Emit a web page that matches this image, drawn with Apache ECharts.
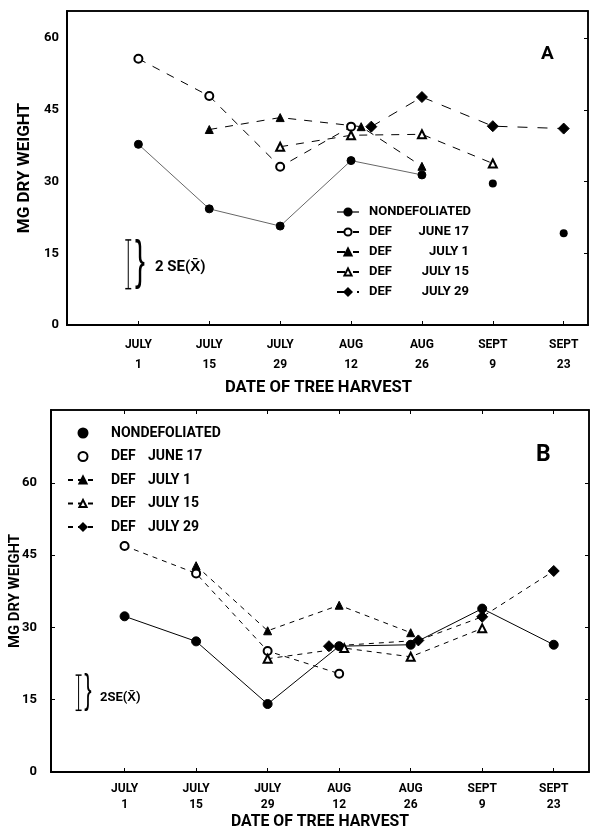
<!DOCTYPE html>
<html>
<head>
<meta charset="utf-8">
<script src="https://cdn.jsdelivr.net/npm/echarts@6/dist/echarts.min.js"></script>
<style>
  html, body { margin: 0; padding: 0; background: #fff; }
  #chartA { position: absolute; left: 0; top: 0; width: 591px; height: 400px; }
  #chartB { position: absolute; left: 0; top: 400px; width: 591px; height: 430px; }
</style>
</head>
<body>
<div id="chartA"></div>
<div id="chartB"></div>
<script>
// Fechas de cosecha: días desde el 1 de julio
var harvestDays = [0, 14, 28, 42, 56, 70, 84];
var harvestMonths = ["JULY", "JULY", "JULY", "AUG", "AUG", "SEPT", "SEPT"];
var harvestDates = ["1", "15", "29", "12", "26", "9", "23"];
var yTicks = [0, 15, 30, 45, 60];
var seriesNames = ["NONDEFOLIATED", "DEF JUNE 17", "DEF JULY 1", "DEF JULY 15", "DEF JULY 29"];

// Panel A
var nondefA_x = [0, 14, 28, 42, 56, 70, 84];
var nondefA_y = [37.8, 24.3, 20.7, 34.4, 31.4, 29.6, 19.2];
var nondefA_joined = 5; // solo los 5 primeros puntos van unidos
var june17A_x = [0, 14, 28, 42];
var june17A_y = [55.7, 47.9, 33.1, 41.5];
var july1A_x = [14, 28, 44, 56];
var july1A_y = [40.9, 43.4, 41.5, 33.2];
var july15A_x = [28, 42, 56, 70];
var july15A_y = [37.3, 39.7, 39.9, 33.8];
var july29A_x = [46, 56, 70, 84];
var july29A_y = [41.5, 47.7, 41.6, 41.1];
var seA_x = -2;
var seA_y = [7.6, 17.8];

// Panel B
var nondefB_x = [0, 14, 28, 42, 56, 70, 84];
var nondefB_y = [32.3, 27.1, 14.1, 26.1, 26.4, 33.9, 26.4];
var june17B_x = [0, 14, 28, 42];
var june17B_y = [46.9, 41.2, 25.1, 20.4];
var july1B_x = [14, 28, 42, 56];
var july1B_y = [42.8, 29.3, 34.6, 28.9];
var july15B_x = [28, 43, 56, 70];
var july15B_y = [23.5, 25.7, 23.9, 29.8];
var july29B_x = [40, 57.5, 70, 84];
var july29B_y = [26.1, 27.3, 32.2, 41.7];
var seB_x = -9;
var seB_y = [12.8, 20.1];

var FONT = "Roboto, 'Liberation Sans', sans-serif";

// tamaño de letra para que un texto ocupe un ancho dado
var measureCtx = document.createElement("canvas").getContext("2d");
function fitSize(text, width) {
    measureCtx.font = "bold 100px " + FONT;
    return Math.round(1000 * width / measureCtx.measureText(text).width) / 10;
}

function pairs(xs, ys) {
    return xs.map(function (x, i) { return [x, ys[i]]; });
}

function fmtDate(v) {
    var i = harvestDays.indexOf(v);
    return i < 0 ? "" : harvestMonths[i] + "\n" + harvestDates[i];
}

function lineSeries(name, data, symbol, size, lineColor, dash) {
    return {
        type: "line",
        name: name,
        data: data,
        symbol: symbol,
        symbolSize: size,
        showAllSymbol: true,
        itemStyle: { color: "#000", borderColor: "#000", borderWidth: 1 },
        lineStyle: { color: lineColor, width: 1, type: dash },
        z: 3
    };
}

function seSeries(x, ys) {
    return {
        type: "line",
        data: [[x, ys[0]], [x, ys[1]]],
        symbol: "rect",
        symbolSize: [6, 1.5],
        itemStyle: { color: "#000" },
        lineStyle: { color: "#000", width: 1 },
        silent: true
    };
}

// llave "}" fina y alargada junto a la barra de error
function brace(x, y, size) {
    return {
        type: "text", x: x, y: y, scaleX: 0.55,
        style: { text: "}", font: "normal " + size + "px 'Liberation Sans'", fill: "#000", align: "center", verticalAlign: "middle" }
    };
}

function buildOption(p) {
    var xNameSize = fitSize("DATE OF TREE HARVEST", p.xNameWidth);
    var yNameSize = fitSize("MG DRY WEIGHT", p.yNameWidth);
    var xLabelSize = fitSize("JULY", 27);
    var ls = p.legendFont;
    return {
        animation: false,
        textStyle: { fontFamily: FONT, fontWeight: "bold", color: "#000" },
        title: {
            text: p.letter, left: p.letterPos[0], top: p.letterPos[1], padding: 0,
            textStyle: { fontFamily: FONT, fontSize: p.letterSize, fontWeight: "bold", color: "#000" }
        },
        grid: {
            left: p.grid[0], right: p.grid[1], top: p.grid[2], bottom: p.grid[3],
            outerBoundsMode: "none",
            show: true, borderColor: "#000", borderWidth: 1.5
        },
        legend: {
            data: p.legendData,
            orient: "vertical",
            left: p.legendPos[0], top: p.legendPos[1], padding: 0,
            itemWidth: p.legendIcon, itemHeight: 9, itemGap: p.legendGap,
            selectedMode: false,
            textStyle: {
                fontFamily: FONT, fontWeight: "bold", fontSize: ls, color: "#000", lineHeight: p.legendLine,
                rich: {
                    s: { width: p.legendIndent },
                    n: { fontFamily: FONT, fontWeight: "bold", fontSize: ls },
                    d: { fontFamily: FONT, fontWeight: "bold", fontSize: ls, width: p.legendCols[0] },
                    w: { fontFamily: FONT, fontWeight: "bold", fontSize: ls, width: p.legendCols[1], align: p.legendAlign }
                }
            },
            formatter: function (name) {
                if (name.indexOf("DEF ") !== 0) return "{s|}{n|" + name + "}";
                return "{s|}{d|DEF}{w|" + name.slice(4) + "}";
            }
        },
        xAxis: [{
            type: "value", min: p.xRange[0], max: p.xRange[1], position: "bottom",
            axisLine: { show: true, onZero: false, lineStyle: { color: "#000", width: 2 } },
            axisTick: { show: true, inside: true, length: 4, customValues: harvestDays, lineStyle: { color: "#000" } },
            axisLabel: {
                customValues: harvestDays, formatter: fmtDate, color: "#000",
                fontFamily: FONT, fontWeight: "bold", fontSize: xLabelSize, lineHeight: p.xLabelLine, margin: p.xLabelMargin
            },
            splitLine: { show: false },
            name: "DATE OF TREE HARVEST", nameLocation: "middle", nameGap: p.xNameGap, nameMoveOverlap: false,
            nameTextStyle: { fontFamily: FONT, fontWeight: "bold", fontSize: xNameSize, color: "#000", padding: [0, p.xNameShift, 0, 0] }
        }, {
            type: "value", min: p.xRange[0], max: p.xRange[1], position: "top",
            axisLine: { show: true, onZero: false, lineStyle: { color: "#000", width: 1.5 } },
            axisTick: { show: p.topTicks, inside: true, length: 4, customValues: harvestDays, lineStyle: { color: "#000" } },
            axisLabel: { show: false },
            splitLine: { show: false }
        }],
        yAxis: [{
            type: "value", min: 0, max: p.yMax, position: "left",
            axisLine: { show: true, onZero: false, lineStyle: { color: "#000", width: 2 } },
            axisTick: { show: p.leftTicks, inside: true, length: 4, customValues: yTicks, lineStyle: { color: "#000" } },
            axisLabel: {
                customValues: yTicks, color: "#000", fontFamily: FONT, fontWeight: "bold", fontSize: 13, margin: p.yLabelMargin
            },
            splitLine: { show: false },
            name: "MG DRY WEIGHT", nameLocation: "middle", nameRotate: 90, nameGap: p.yNameGap, nameMoveOverlap: false,
            nameTextStyle: { fontFamily: FONT, fontWeight: "bold", fontSize: yNameSize, color: "#000" }
        }, {
            type: "value", min: 0, max: p.yMax, position: "right",
            axisLine: { show: true, onZero: false, lineStyle: { color: "#000", width: 1.5 } },
            axisTick: { show: true, inside: true, length: 4, customValues: yTicks, lineStyle: { color: "#000" } },
            axisLabel: { show: false },
            splitLine: { show: false }
        }],
        graphic: p.graphic,
        series: p.series
    };
}

// ---------- Panel A ----------
var chartA = echarts.init(document.getElementById("chartA"));
var dashA = [8, 8];
chartA.setOption(buildOption({
    letter: "A", letterPos: [541, 45], letterSize: 19,
    grid: [67, 3, 11, 75],
    xRange: [-14.1, 88.8], yMax: 65.7,
    xLabelLine: 20, xLabelMargin: 10, xNameGap: 54, xNameWidth: 187, xNameShift: 18,
    yLabelMargin: 8, yNameGap: 34, yNameWidth: 130,
    topTicks: false, leftTicks: false,
    legendData: seriesNames, legendPos: [336, 205], legendGap: 6, legendLine: 14, legendFont: 13,
    legendIcon: 22, legendIndent: 5,
    legendCols: [42, 58], legendAlign: "right",
    graphic: [
        brace(140, 263, 54),
        { type: "text", left: 155, top: 260, style: { text: "2 SE(X\u0304)", font: "bold 15px " + FONT, fill: "#000" } }
    ],
    series: [
        lineSeries(seriesNames[0], pairs(nondefA_x.slice(0, nondefA_joined), nondefA_y.slice(0, nondefA_joined)), "circle", 8, "#666", "solid"),
        { type: "scatter", name: seriesNames[0], data: pairs(nondefA_x.slice(nondefA_joined), nondefA_y.slice(nondefA_joined)),
          symbol: "circle", symbolSize: 8, itemStyle: { color: "#000", opacity: 1 }, z: 3 },
        lineSeries(seriesNames[1], pairs(june17A_x, june17A_y), "emptyCircle", 8, "#000", dashA),
        lineSeries(seriesNames[2], pairs(july1A_x, july1A_y), "triangle", 8, "#000", dashA),
        lineSeries(seriesNames[3], pairs(july15A_x, july15A_y), "emptyTriangle", 8, "#000", dashA),
        lineSeries(seriesNames[4], pairs(july29A_x, july29A_y), "diamond", 11, "#000", [10, 10]),
        seSeries(seA_x, seA_y)
    ]
}));

// ---------- Panel B ----------
var chartB = echarts.init(document.getElementById("chartB"));
var dashB = [5, 5];
chartB.setOption(buildOption({
    letter: "B", letterPos: [536, 44], letterSize: 23,
    grid: [51, 2, 10, 58],
    xRange: [-14.4, 90.9], yMax: 75.1,
    xLabelLine: 16, xLabelMargin: 9, xNameGap: 42, xNameWidth: 178, xNameShift: 0,
    yLabelMargin: 14, yNameGap: 28, yNameWidth: 114,
    topTicks: true, leftTicks: true,
    legendData: [
        { name: seriesNames[0], icon: "circle" },
        { name: seriesNames[1], icon: "emptyCircle" },
        seriesNames[2], seriesNames[3], seriesNames[4]
    ],
    legendPos: [67, 25], legendGap: 7.5, legendLine: 16, legendFont: 14,
    legendIcon: 30, legendIndent: 8,
    legendCols: [37, 60], legendAlign: "left",
    graphic: [
        brace(88, 292, 40),
        { type: "text", left: 100, top: 291, style: { text: "2SE(X\u0304)", font: "bold 13px " + FONT, fill: "#000" } }
    ],
    series: [
        lineSeries(seriesNames[0], pairs(nondefB_x, nondefB_y), "circle", 9, "#000", "solid"),
        lineSeries(seriesNames[1], pairs(june17B_x, june17B_y), "emptyCircle", 8, "#000", dashB),
        lineSeries(seriesNames[2], pairs(july1B_x, july1B_y), "triangle", 8, "#000", dashB),
        lineSeries(seriesNames[3], pairs(july15B_x, july15B_y), "emptyTriangle", 8, "#000", dashB),
        lineSeries(seriesNames[4], pairs(july29B_x, july29B_y), "diamond", 11, "#000", dashB),
        seSeries(seB_x, seB_y)
    ]
}));
</script>
</body>
</html>
